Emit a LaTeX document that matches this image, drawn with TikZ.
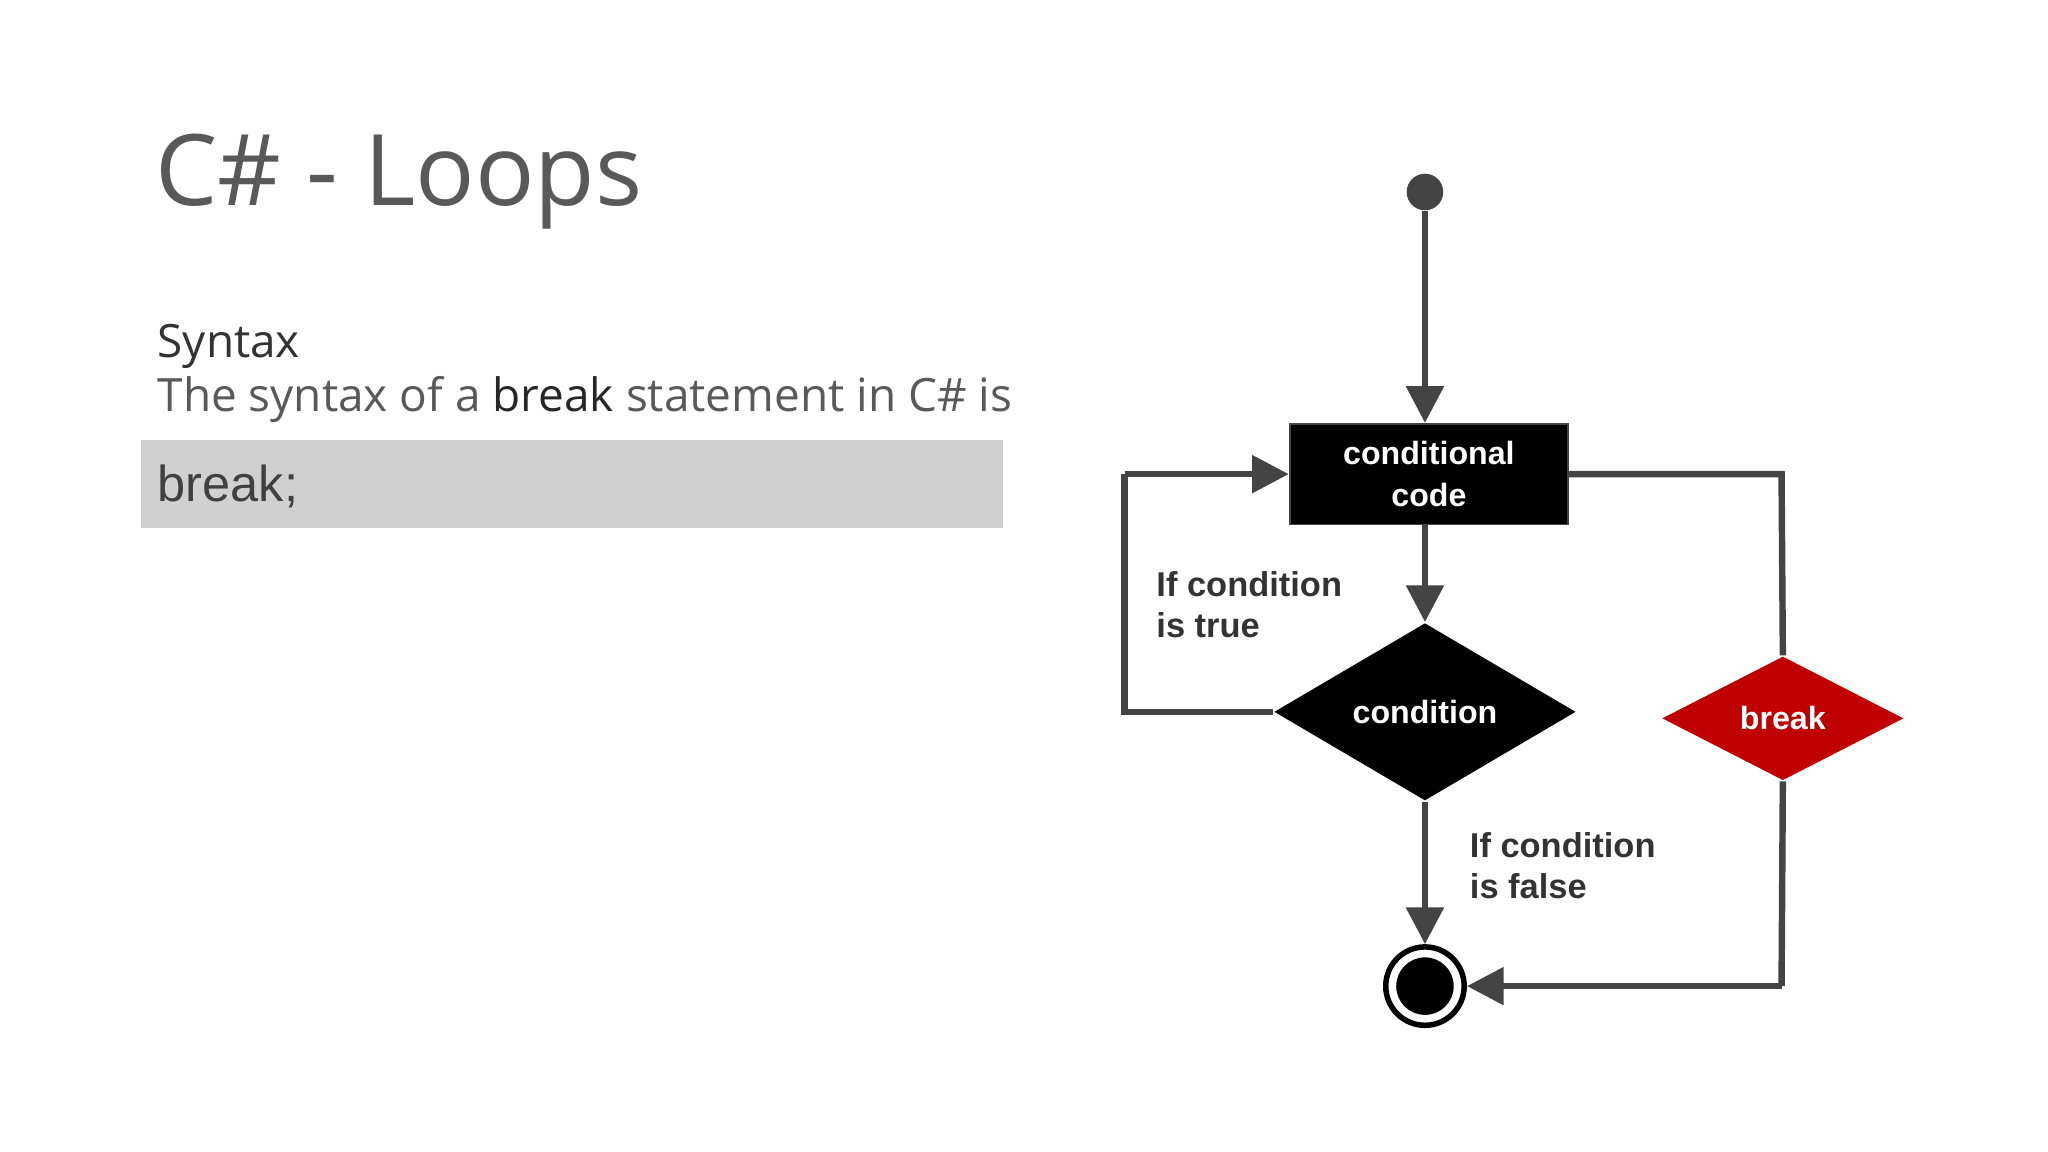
\documentclass[tikz,border=0pt]{standalone}
\usepackage{fontspec}
\setmainfont{Open Sans}
\newfontfamily\flowfont{Liberation Sans}
\usetikzlibrary{shapes.geometric,arrows.meta,positioning}
\definecolor{linegray}{HTML}{444444}
\definecolor{titlegray}{HTML}{595959}
\definecolor{codebg}{HTML}{D0D0D0}
\definecolor{breakred}{HTML}{C00000}
\tikzset{
  flow/.style={draw=linegray,line width=1.4pt},
  arr/.style={flow,-{Triangle[length=8pt,width=8pt]}},
  blockbox/.style={fill=black,draw=linegray,minimum width=2.13cm,minimum height=0.77cm,text=white,font=\flowfont\bfseries\fontsize{7pt}{9pt}\selectfont,align=center},
  decide/.style={diamond,aspect=1.7,fill=#1,draw=none,inner sep=0pt,text=white,font=\flowfont\bfseries\fontsize{7pt}{9pt}\selectfont},
  flowlabel/.style={font=\flowfont\bfseries\fontsize{7.5pt}{9pt}\selectfont,text=black!80,align=left,anchor=north west}
}
\begin{document}
\begin{tikzpicture}[x=0.01cm,y=-0.01cm]
  \useasboundingbox (0,0) rectangle (1568,882);
  % slide text
  \node(title) [anchor=base west,inner sep=0pt,text=titlegray,font=\fontsize{21.5pt}{24pt}\selectfont] at (118,157) {C\# - Loops};
  \node(syntax) [anchor=base west,inner sep=0pt,text=black!80,font=\fontsize{10pt}{12pt}\selectfont] at (120,274) {Syntax};
  \node(desc) [anchor=base west,inner sep=0pt,text=black!65,font=\fontsize{10pt}{12pt}\selectfont] at (120,315) {The syntax of a {\color{black!85}break} statement in C\# is};
  \fill[codebg] (108,337) rectangle (768,404);
  \node(code) [anchor=base west,inner sep=0pt,text=black!75,font=\flowfont\fontsize{11pt}{13pt}\selectfont] at (120,384) {break;};
  % flowchart
  \node(start) [circle,fill=linegray,minimum size=0.28cm,inner sep=0pt] at (1091,147) {};
  \node(cond code) [blockbox] at (1094,363) {conditional\\code};
  \node(cond) [decide=black,minimum width=2.31cm,minimum height=1.36cm] at (1091,545) {condition};
  \node(brk) [decide=breakred,minimum width=1.85cm,minimum height=0.95cm] at (1365,550) {break};
  \node(stop) [circle,draw=black,line width=1.2pt,fill=white,minimum size=0.6cm,inner sep=0pt] at (1091,755) {};
  \fill[black] (stop) circle (0.22cm);
  \coordinate(loopl) at (861,545);
  \coordinate(loopt) at (861,363);
  \coordinate(brkt) at (1364,363);
  \coordinate(brkb) at (1364,755);
  \draw[arr] (start) -- (cond code.north -| start);
  \draw[arr] (cond code.south -| start) -- (cond.north);
  \draw[flow] (cond.west) -- (loopl) -- (loopt);
  \draw[arr] (loopt) -- (cond code.west);
  \draw[flow] (cond code.east) -- (brkt) -- (brk.north);
  \draw[flow] (brk.south) -- (brkb);
  \draw[arr] (brkb) -- (stop.east);
  \draw[arr] (cond.south) -- (stop.north);
  \node(truelbl) [flowlabel] at (873,425) {If condition\\ is true};
  \node(falselbl) [flowlabel] at (1113,625) {If condition\\is false};
\end{tikzpicture}
\end{document}
